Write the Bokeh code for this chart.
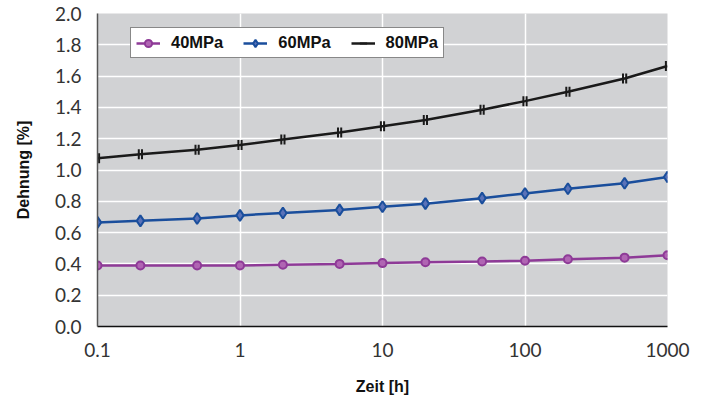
from bokeh.plotting import figure
from bokeh.models import FixedTicker, Legend, LegendItem, Range1d
from bokeh.embed import file_html
from bokeh.resources import INLINE

zeit = [0.1, 0.2, 0.5, 1, 2, 5, 10, 20, 50, 100, 200, 500, 1000]
mpa40 = [0.39, 0.39, 0.39, 0.39, 0.395, 0.40, 0.405, 0.41, 0.415, 0.42, 0.43, 0.44, 0.455]
mpa60 = [0.665, 0.675, 0.69, 0.71, 0.725, 0.745, 0.765, 0.785, 0.82, 0.85, 0.88, 0.915, 0.955]
mpa80 = [1.075, 1.10, 1.13, 1.16, 1.195, 1.24, 1.28, 1.32, 1.385, 1.44, 1.50, 1.585, 1.665]
x_ticks = [0.1, 1, 10, 100, 1000]
x_labels = ["0.1", "1", "10", "100", "1000"]
y_ticks = [0.0, 0.2, 0.4, 0.6, 0.8, 1.0, 1.2, 1.4, 1.6, 1.8, 2.0]

p = figure(x_axis_type="log", output_backend="svg", toolbar_location=None,
           frame_width=570, frame_height=313,
           min_border_left=97, min_border_right=39, min_border_top=13, min_border_bottom=70,
           x_range=Range1d(0.1, 1000), y_range=Range1d(0, 2.0))
p.background_fill_color = "#d1d2d4"
p.border_fill_color = "white"
p.outline_line_color = None

p.xaxis.ticker = FixedTicker(ticks=x_ticks)
p.xaxis.major_label_overrides = {t: l for t, l in zip(x_ticks, x_labels)}
p.yaxis.ticker = FixedTicker(ticks=y_ticks)
p.yaxis.major_label_overrides = {t: f"{t:.1f}" for t in y_ticks}

for ax in (p.xaxis[0], p.yaxis[0]):
    ax.major_tick_line_color = None
    ax.minor_tick_line_color = None
    ax.major_label_text_font = "Lato"
    ax.major_label_text_font_size = "19px"
    ax.major_label_text_color = "#333333"
    ax.axis_label_text_font = "Liberation Sans"
    ax.axis_label_text_font_style = "bold"
    ax.axis_label_text_font_size = "16px"
    ax.axis_label_text_color = "#111111"

p.xaxis.axis_line_color = "#111111"
p.xaxis.axis_line_width = 1.5
p.yaxis.axis_line_color = "#555555"
p.yaxis.axis_line_width = 1.5
p.xaxis.major_label_standoff = 10
p.yaxis.major_label_standoff = 10
p.xaxis.axis_label = "Zeit [h]"
p.yaxis.axis_label = "Dehnung [%]"
p.xaxis.axis_label_standoff = 18
p.yaxis.axis_label_standoff = 20

p.xgrid.grid_line_color = "white"
p.ygrid.grid_line_color = "white"
p.xgrid.grid_line_width = 1.5
p.ygrid.grid_line_width = 1.5

purple, purple_fill = "#8e3a97", "#b065b3"
blue, blue_fill = "#1a4e9c", "#5a72b8"
black = "#1a1a1a"

l40 = p.line(zeit, mpa40, line_color=purple, line_width=2.5)
s40 = p.scatter(zeit, mpa40, marker="circle", size=8, fill_color=purple_fill,
                line_color=purple, line_width=2)
l60 = p.line(zeit, mpa60, line_color=blue, line_width=2.5)
s60 = p.scatter(zeit, mpa60, marker="diamond", size=11, fill_color=blue_fill,
                line_color=blue, line_width=2)
l80 = p.line(zeit, mpa80, line_color=black, line_width=2.5)
f = 10 ** (1.6 / 142.5)
s80a = p.scatter([z / f for z in zeit], mpa80, marker="dash", angle=1.5708, size=10,
                 line_color=black, line_width=2)
s80b = p.scatter([z * f for z in zeit], mpa80, marker="dash", angle=1.5708, size=10,
                 line_color=black, line_width=2)

legend = Legend(items=[
    LegendItem(label="40MPa", renderers=[l40, s40]),
    LegendItem(label="60MPa", renderers=[l60, s60]),
    LegendItem(label="80MPa", renderers=[l80, s80a]),
], orientation="horizontal", location=(33, 268))
legend.label_text_font = "Liberation Sans"
legend.label_text_font_style = "bold"
legend.label_text_font_size = "16.5px"
legend.label_text_color = "#111111"
legend.border_line_color = "#111111"
legend.border_line_width = 1.5
legend.background_fill_color = "white"
legend.background_fill_alpha = 1
legend.padding = 5
legend.margin = 0
legend.spacing = 20
legend.glyph_width = 24
legend.glyph_height = 18
legend.label_standoff = 11
p.add_layout(legend, "center")

open("out.html", "w").write(file_html(p, INLINE))
